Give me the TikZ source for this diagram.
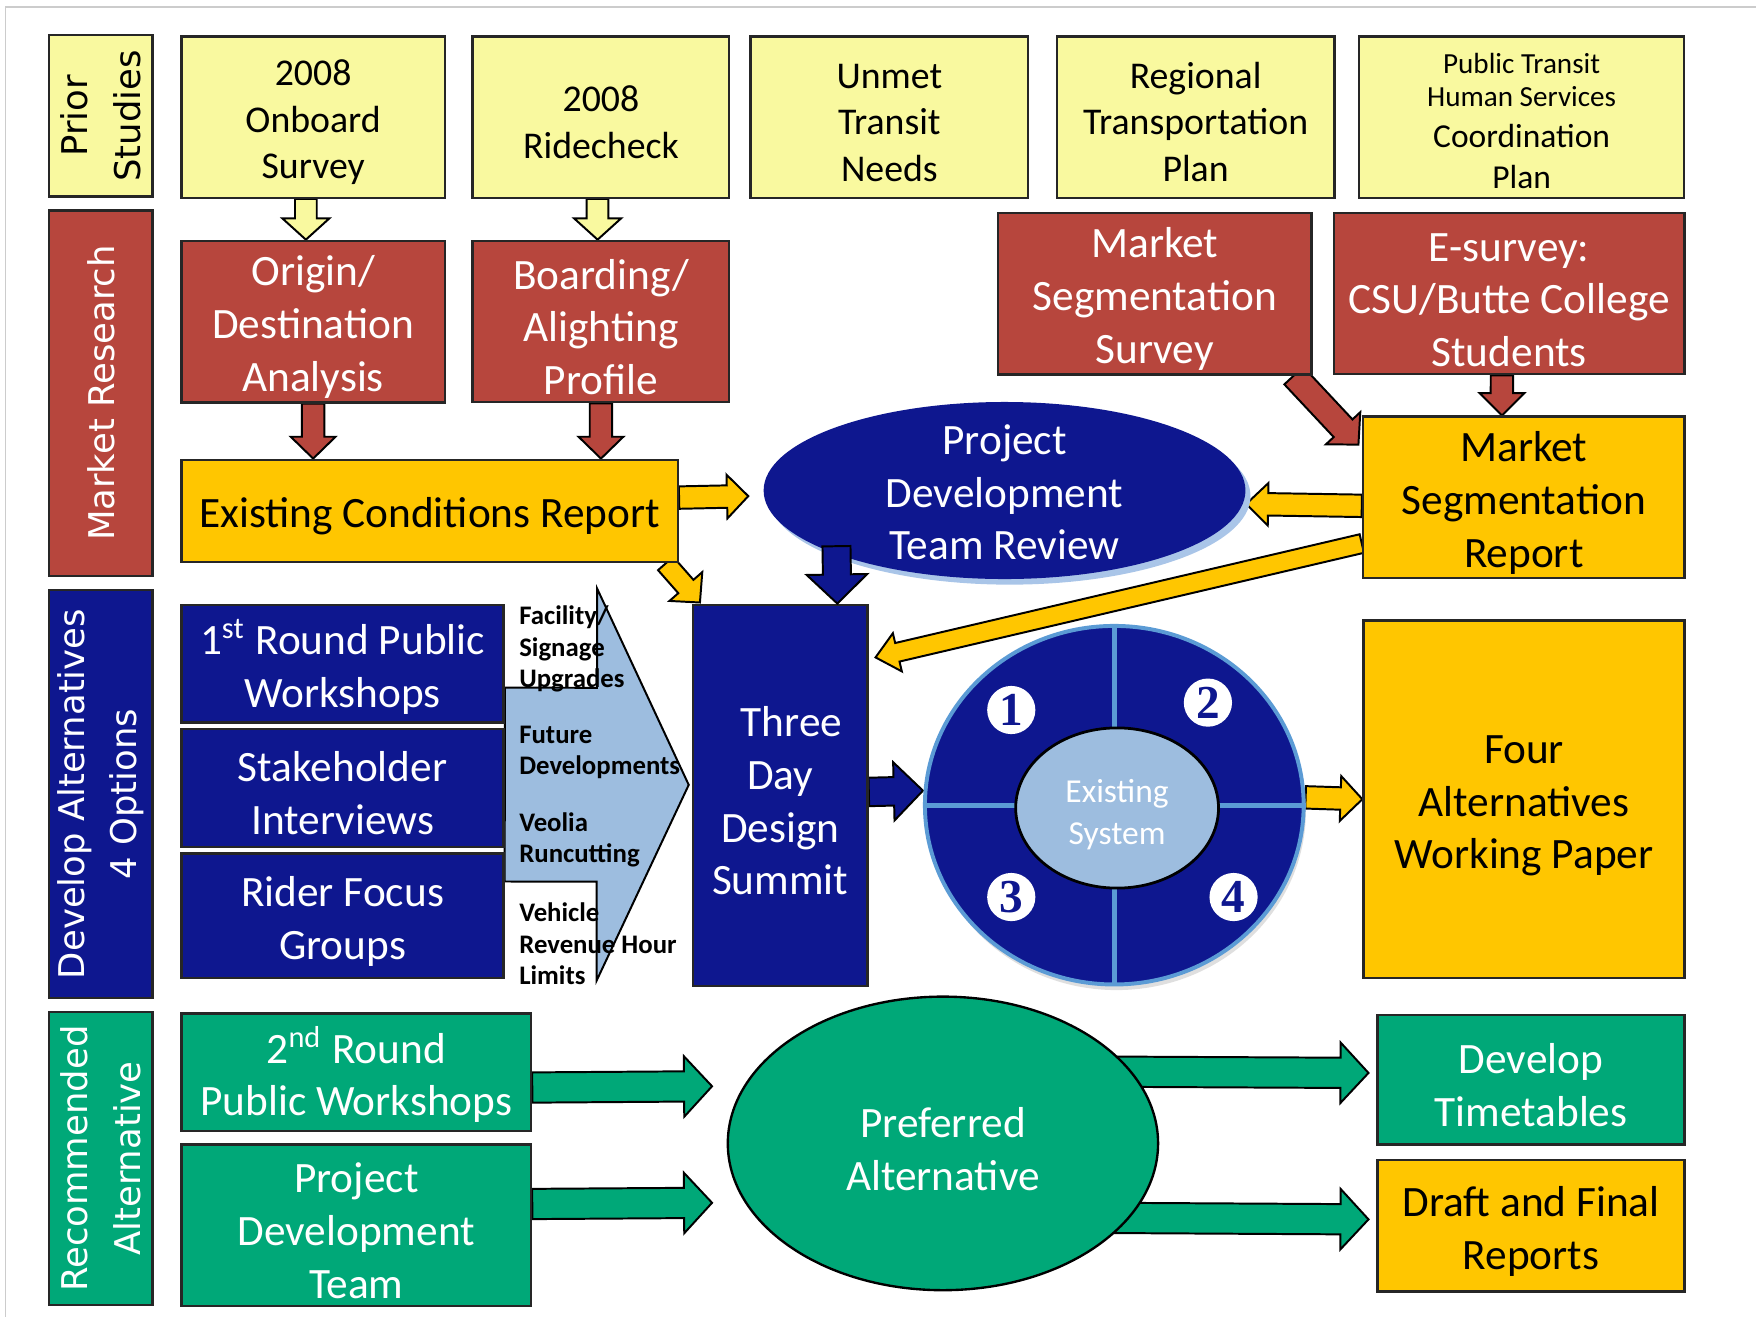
\documentclass[tikz,border=0pt]{standalone}
\usepackage{fontspec}
\setmainfont{Carlito}
\newfontfamily\labelfont{DejaVu Sans}
\newfontfamily\numfont{Liberation Serif}
\usetikzlibrary{calc,shapes.geometric,shadows}

\pgfdeclarelayer{background}
\pgfsetlayers{background,main}

\definecolor{ylight}{HTML}{F9F99F}
\definecolor{rbrown}{HTML}{B7463D}
\definecolor{gold}{HTML}{FFC600}
\definecolor{dnavy}{HTML}{0E178F}
\definecolor{skyb}{HTML}{9DBDDF}
\definecolor{rim}{HTML}{5B9BD5}
\definecolor{glow}{HTML}{A9C5E8}
\definecolor{sgreen}{HTML}{00A878}

% top strut, so box text sits as in the slide
\newcommand{\up}{\rule{0pt}{0.95em}}

% block arrow: [style]{from}{to}{shaft half width}{head half width}{head length}
\newcommand{\blockarrow}[6][]{%
  \coordinate (ba-s) at (#2);
  \coordinate (ba-e) at (#3);
  \coordinate (ba-b) at ($(ba-e)!#6!(ba-s)$);
  \filldraw[barrow,#1] ($(ba-s)!#4!90:(ba-e)$) -- ($(ba-b)!#4!90:(ba-e)$)
    -- ($(ba-b)!#5!90:(ba-e)$) -- (ba-e) -- ($(ba-b)!#5!-90:(ba-e)$)
    -- ($(ba-b)!#4!-90:(ba-e)$) -- ($(ba-s)!#4!-90:(ba-e)$) -- cycle;
}

\tikzset{
  barrow/.style={draw=black, line width=0.5pt, line join=miter},
  stage/.style={draw=black!85, line width=0.6pt, anchor=north west, inner sep=1pt,
    align=center, font=\fontsize{11}{13.4}\selectfont},
  study/.style={stage, fill=ylight, minimum height=14.4mm, font=\fontsize{9.6}{11.7}\selectfont},
  research/.style={stage, fill=rbrown, text=white},
  report/.style={stage, fill=gold},
  develop/.style={stage, fill=dnavy, text=white},
  recommend/.style={stage, fill=sgreen, text=white},
  rowlabel/.style={draw=black!85, line width=0.6pt, rotate=90, minimum height=9.2mm,
    inner sep=0pt, align=center, font=\labelfont\fontsize{9}{13.4}\selectfont},
  option/.style={anchor=west, align=left, inner sep=0pt, font=\bfseries\fontsize{6.8}{8}\selectfont},
  altno/.style={circle, fill=white, text=dnavy, minimum size=4.3mm, inner sep=0pt,
    font=\numfont\bfseries\fontsize{12}{12}\selectfont},
}

\begin{document}
\begin{tikzpicture}[x=0.01cm, y=-0.01cm]
  \useasboundingbox (0,0) rectangle (1568,1176);
  \draw[black!20, line width=0.4pt] (5,1176) -- (5,6) -- (1568,6);

  % prior studies
  \node[rowlabel, fill=ylight, minimum width=14.4mm] (prior) at (90,103.5) {Prior\\Studies};
  \node[study, minimum width=23.5mm] (onboard) at (161,31.5) {\up 2008\\Onboard\\Survey};
  \node[study, minimum width=22.9mm] (ridecheck) at (421,31.5) {\up 2008\\Ridecheck};
  \node[study, minimum width=24.8mm] (unmet) at (669,31.5) {\up Unmet\\Transit\\Needs};
  \node[study, minimum width=24.8mm] (regional) at (942.5,31.5) {\up Regional\\Transportation\\Plan};
  \node[study, minimum width=29mm, font=\fontsize{7.4}{8.5}\selectfont] (coordplan) at (1212.6,31.5)
    {\up Public Transit\\Human Services\\[1.7pt]
     \fontsize{8.5}{10.2}\selectfont Coordination\\[2pt]\fontsize{8.5}{10.5}\selectfont Plan};

  % market research
  \node[rowlabel, fill=rbrown, text=white, minimum width=32.6mm] (mresearch) at (90,351) {Market Research};
  \node[research, minimum width=23.5mm, minimum height=14.4mm] (origin) at (161,214) {\up Origin/\\Destination\\Analysis};
  \node[research, minimum width=22.9mm, minimum height=14.4mm] (boarding) at (421,214) {\up Boarding/\\Alighting\\Profile};
  \node[research, minimum width=28mm, minimum height=14.4mm] (msurvey) at (890,189) {\up Market\\Segmentation\\Survey};
  \node[research, minimum width=31.3mm, minimum height=14.4mm] (esurvey) at (1190,189) {\up E-survey:\\CSU/Butte College\\Students};
  \node[report, minimum width=44.3mm, minimum height=9.15mm] (ecr) at (161,409.5) {\up Existing Conditions Report};
  \node[ellipse, fill=dnavy, minimum width=43mm, minimum height=15.8mm,
    drop shadow={fill=glow, opacity=1, shadow xshift=0.45mm, shadow yshift=-0.5mm},
    label={[text=white, align=center, font=\fontsize{11}{13.4}\selectfont, yshift=-0.5pt]center:{Project\\Development\\Team Review}}]
    (pdtreview) at (897,438) {};
  \node[report, minimum width=28.7mm, minimum height=14.3mm] (mreport) at (1216,371) {\up Market\\Segmentation\\Report};

  % develop alternatives
  \node[rowlabel, fill=dnavy, text=white, minimum width=36.4mm] (devalt) at (90,709) {Develop Alternatives\\4 Options};
  \node[develop, minimum width=28.75mm, minimum height=10.5mm] (round1) at (161,539) {\up 1\textsuperscript{st} Round Public\\Workshops};
  \node[develop, minimum width=28.75mm, minimum height=10.5mm] (stake) at (161,650) {\up Stakeholder\\Interviews};
  \node[develop, minimum width=28.75mm, minimum height=11.1mm] (focus) at (161,761) {\up Rider Focus\\Groups};
  \node[develop, minimum width=15.6mm, minimum height=34mm] (summit) at (617.6,539) {\hspace*{2mm}\up Three\\Day\\Design\\Summit};
  \node[ellipse, draw=rim, line width=1pt, fill=dnavy, minimum width=33.8mm, minimum height=32mm,
    drop shadow={fill=black!25, opacity=0.5, shadow xshift=0.2mm, shadow yshift=-0.5mm}] (wheel) at (995,719) {};
  \draw[rim, line width=1.2pt] (wheel.north) -- (wheel.south) (wheel.west) -- (wheel.east);
  \node[ellipse, draw=black, line width=0.7pt, fill=skyb, minimum width=18.1mm, minimum height=14.3mm,
    label={[text=white, align=center, font=\fontsize{8.5}{10.5}\selectfont, yshift=-1.7pt]center:{Existing\\System}}]
    (existing) at (997.5,721.5) {};
  \node[altno] (alt1) at (903,634) {1};
  \node[altno] (alt2) at (1078.6,627.4) {2};
  \node[altno] (alt3) at (903,801) {3};
  \node[altno] (alt4) at (1101.5,801) {4};
  \node[report, minimum width=28.65mm, minimum height=31.9mm] (four) at (1216.5,553) {\up Four\\Alternatives\\Working Paper};

  % recommended alternative
  \node[rowlabel, fill=sgreen, text=white, minimum width=26.1mm] (recalt) at (90,1034.5) {Recommended\\Alternative};
  \node[recommend, minimum width=31.2mm, minimum height=10.5mm] (round2) at (161,904) {\up 2\textsuperscript{nd} Round\\Public Workshops};
  \node[recommend, minimum width=31.2mm, minimum height=14.4mm] (pdteam) at (161,1021) {\up Project\\Development\\Team};
  \node[ellipse, draw=black, line width=0.6pt, fill=sgreen, minimum width=38.4mm, minimum height=26.2mm,
    label={[text=white, align=center, font=\fontsize{11}{13.4}\selectfont, yshift=-1.4pt]center:{Preferred\\Alternative}}]
    (preferred) at (842,1021) {};
  \node[recommend, minimum width=27.4mm, minimum height=11.6mm] (timetables) at (1229,905) {\up Develop\\Timetables};
  \node[report, minimum width=27.4mm, minimum height=11.75mm] (reports) at (1229,1034.5) {\up Draft and Final\\Reports};

  \begin{pgfonlayer}{background}
    \blockarrow[fill=ylight]{[xshift=-0.65mm]onboard.south}{[xshift=-0.65mm]origin.north}{0.97mm}{2.1mm}{1.9mm}
    \blockarrow[fill=ylight]{[xshift=-0.3mm]ridecheck.south}{[xshift=-0.3mm]boarding.north}{0.97mm}{2.1mm}{1.9mm}
    \blockarrow[fill=rbrown]{origin.south}{origin.south |- ecr.north}{1mm}{2mm}{1.95mm}
    \blockarrow[fill=rbrown]{boarding.south}{boarding.south |- ecr.north}{1mm}{2mm}{1.95mm}
    \blockarrow[fill=rbrown]{[xshift=-1.7mm]msurvey.south east}{[xshift=-0.3mm,yshift=-2.6mm]mreport.north west}{1.15mm}{2.1mm}{2mm}
    \blockarrow[fill=rbrown]{[xshift=-0.65mm]esurvey.south}{[xshift=-1.95mm]mreport.north}{1mm}{2mm}{2mm}
    \blockarrow[fill=gold]{[yshift=1.2mm]ecr.east}{[xshift=-1.3mm,yshift=-0.5mm]pdtreview.west}{1mm}{1.95mm}{1.9mm}
    \blockarrow[fill=gold]{[yshift=-0.75mm]mreport.west}{[yshift=-1.2mm]pdtreview.east}{1mm}{1.9mm}{1.95mm}
    \blockarrow[fill=gold]{[xshift=-1.2mm]ecr.south east}{[xshift=0.74mm,yshift=0.1mm]summit.north west}{0.9mm}{1.95mm}{1.9mm}
    \blockarrow[fill=gold]{[yshift=3.2mm]mreport.south west}{[xshift=0.6mm,yshift=-4.8mm]summit.north east}{0.85mm}{1.75mm}{2mm}
    \blockarrow[fill=dnavy]{[yshift=0.3mm]summit.east}{[yshift=1.3mm]wheel.west}{1.27mm}{2.6mm}{2.6mm}
    \blockarrow[fill=gold]{[yshift=0.7mm]wheel.east}{four.west}{1mm}{2mm}{1.95mm}
    \blockarrow[fill=skyb]{[yshift=0.3mm]stake.east}{[xshift=-0.26mm,yshift=0.93mm]summit.west}{8.65mm}{17.5mm}{8.2mm}
    \blockarrow[fill=sgreen]{[yshift=-1.35mm]round2.east}{[xshift=-1.3mm,yshift=5.1mm]preferred.west}{1.35mm}{2.7mm}{2.5mm}
    \blockarrow[fill=sgreen]{[yshift=1.9mm]pdteam.east}{[xshift=-1.3mm,yshift=-5.3mm]preferred.west}{1.35mm}{2.7mm}{2.5mm}
    \blockarrow[fill=sgreen]{[xshift=-4mm,yshift=6.4mm]preferred.east}{[xshift=-0.7mm,yshift=0.6mm]timetables.west}{1.35mm}{2.7mm}{2.5mm}
    \blockarrow[fill=sgreen]{[xshift=-4mm,yshift=-6.65mm]preferred.east}{[xshift=-0.7mm,yshift=0.55mm]reports.west}{1.35mm}{2.7mm}{2.5mm}
  \end{pgfonlayer}
  \blockarrow[fill=dnavy]{[xshift=-15mm,yshift=3mm]pdtreview.south}{[xshift=5.1mm]summit.north}{1.25mm}{2.7mm}{2.6mm}

  % options feeding the summit
  \node[option] (optfac) at (463,579.5) {Facility/\\Signage\\Upgrades};
  \node[option] (optfut) at (463,672) {Future\\Developments};
  \node[option] (optveo) at (463,750) {Veolia\\Runcutting};
  \node[option] (optveh) at (463,843) {Vehicle\\Revenue Hour\\Limits};
\end{tikzpicture}
\end{document}
